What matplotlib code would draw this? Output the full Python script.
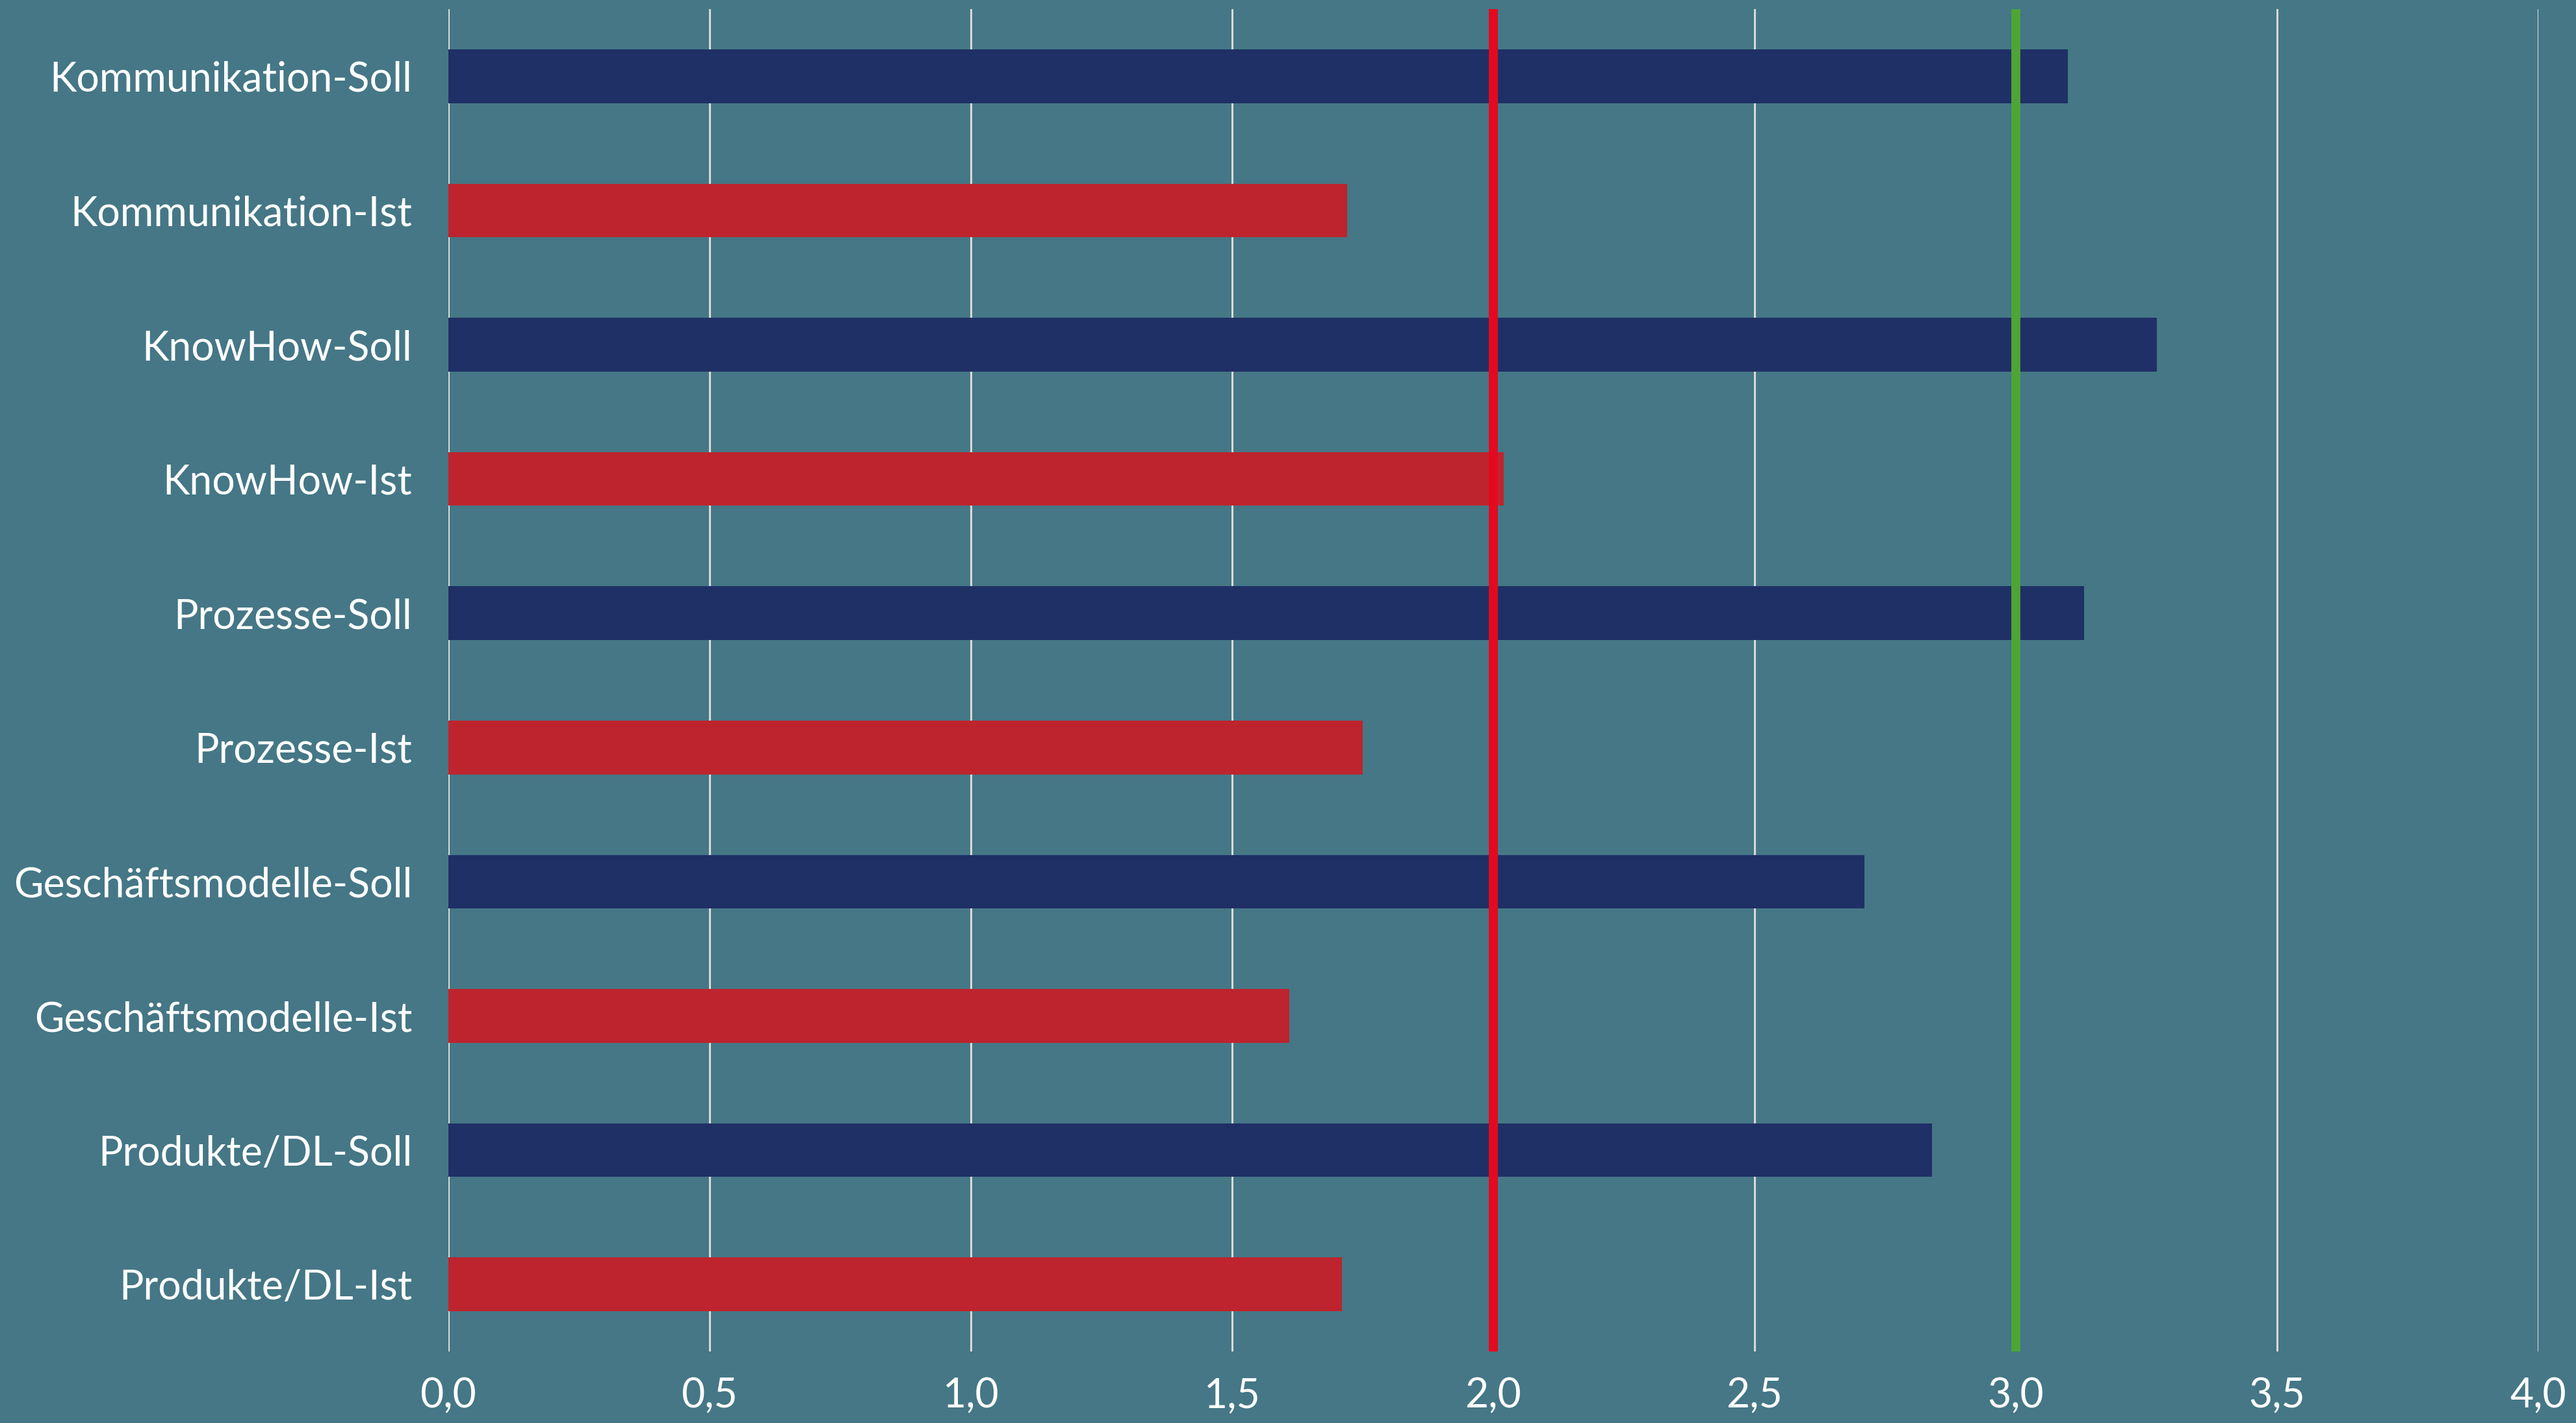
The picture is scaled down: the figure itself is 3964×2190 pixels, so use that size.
import matplotlib
matplotlib.use("Agg")
import matplotlib.pyplot as plt
from matplotlib.ticker import FuncFormatter

categories = [
    "Kommunikation-Soll", "Kommunikation-Ist",
    "KnowHow-Soll", "KnowHow-Ist",
    "Prozesse-Soll", "Prozesse-Ist",
    "Geschäftsmodelle-Soll", "Geschäftsmodelle-Ist",
    "Produkte/DL-Soll", "Produkte/DL-Ist",
]
values = [3.10, 1.72, 3.27, 2.02, 3.13, 1.75, 2.71, 1.61, 2.84, 1.71]
kinds = ["Soll", "Ist"] * 5
ref_low = 2.0
ref_high = 3.0
x_ticks = [0.0, 0.5, 1.0, 1.5, 2.0, 2.5, 3.0, 3.5, 4.0]

bg = "#457786"
colors = {"Soll": "#1f3066", "Ist": "#be242d"}

plt.rcParams["font.family"] = ["Lato", "DejaVu Sans"]

fig = plt.figure(figsize=(39.64, 21.9), dpi=100, facecolor=bg)
ax = fig.add_axes([0.174, 0.0502, 0.8114, 0.9434])
ax.set_facecolor(bg)

ypos = list(range(len(categories)))
ax.barh(ypos, values, height=0.4, color=[colors[k] for k in kinds], zorder=3)

ax.axvline(ref_low, color="#e30a20", linewidth=10, zorder=4)
ax.axvline(ref_high, color="#4ea535", linewidth=10, zorder=4)

ax.set_xlim(0, 4.0)
ax.set_ylim(len(categories) - 0.5, -0.5)
ax.set_yticks(ypos)
ax.set_yticklabels(categories)
ax.set_xticks(x_ticks)
ax.xaxis.set_major_formatter(FuncFormatter(lambda v, p: f"{v:.1f}".replace(".", ",")))

ax.grid(axis="x", color="#d9d9d9", linewidth=2.2, zorder=1)
ax.grid(axis="y", visible=False)
for s in ax.spines.values():
    s.set_visible(False)

ax.tick_params(axis="both", length=0, colors="white", labelsize=45)
ax.tick_params(axis="y", pad=40)
ax.tick_params(axis="x", pad=28)
for lbl in ax.get_xticklabels() + ax.get_yticklabels():
    lbl.set_fontweight("normal")

fig.savefig("out.png", dpi=100, facecolor=bg)
